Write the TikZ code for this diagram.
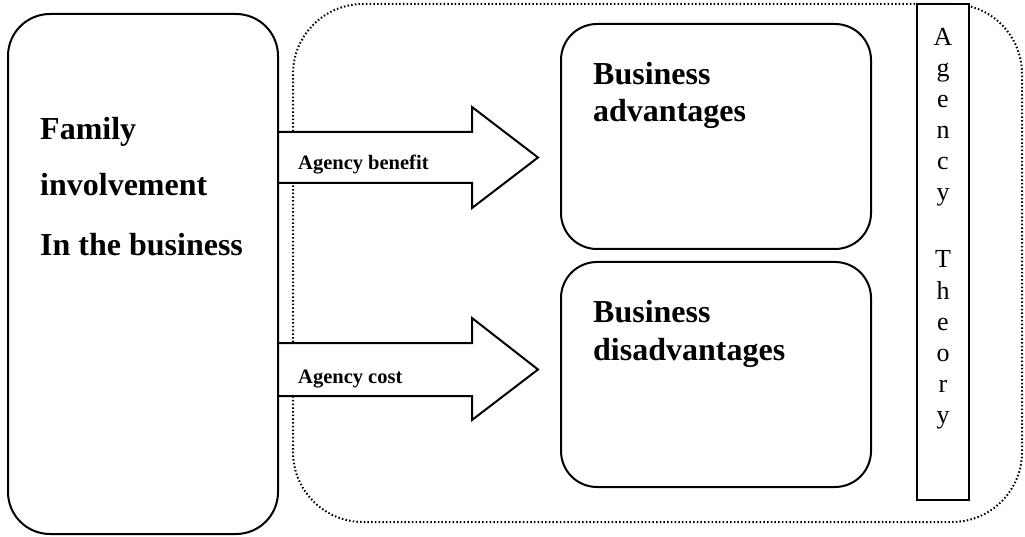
\documentclass[tikz,border=0pt]{standalone}
\usepackage{fontspec}
\setmainfont{Liberation Serif}
\usetikzlibrary{positioning}

\begin{document}
\begin{tikzpicture}[x=1pt, y=-1pt,
        solidbox/.style={draw=black, line width=2pt, inner sep=0pt, fill=white},
        dotbox/.style={draw=black, line width=2pt, dash pattern=on 1.5pt off 2.2pt, rounded corners=70pt, inner sep=0pt},
        blockarrow/.style={draw=black, fill=white, line width=2pt},
        bigtext/.style={anchor=base west, inner sep=0pt, font=\fontsize{32}{37}\selectfont\bfseries},
        smalltext/.style={anchor=base west, inner sep=0pt, font=\fontsize{20.5}{24}\selectfont\bfseries},
        letter/.style={anchor=base, inner sep=0pt, font=\fontsize{26}{30}\selectfont}]
    \useasboundingbox (0,0) rectangle (1025,537);

    % frame of the agency theory
    \node[dotbox, minimum width=729pt, minimum height=518pt] (frame) at (657.5,263) {};

    % arrows (drawn before the family box)
    \coordinate (family east) at (278,0);
    \filldraw[blockarrow] (family east |- 0,132) -- (472,132) -- (472,107) -- (538,157.5) -- (472,208) -- (472,183) -- (family east |- 0,183);
    \filldraw[blockarrow] (family east |- 0,343) -- (472,343) -- (472,318) -- (538,369.5) -- (472,420) -- (472,396) -- (family east |- 0,396);
    \node[smalltext] (benefit) at (298,170) {Agency benefit};
    \node[smalltext] (cost)    at (298,383) {Agency cost};

    % family involvement
    \node[solidbox, fill=none, rounded corners=42pt, minimum width=270pt, minimum height=520pt] (family) at (143,274) {};
    \node[bigtext] (fam1) at (40,140) {Family};
    \node[bigtext] (fam2) at (40,196) {involvement};
    \node[bigtext] (fam3) at (40,256) {In the business};

    % business outcomes
    \node[solidbox, rounded corners=36pt, minimum width=310pt, minimum height=225pt] (adv)    at (716,136.5) {};
    \node[solidbox, rounded corners=36pt, minimum width=310pt, minimum height=225pt] (disadv) at (716,374.5) {};
    \node[bigtext] (adv1)    at (593,85)  {Business};
    \node[bigtext] (adv2)    at (593,122) {advantages};
    \node[bigtext] (disadv1) at (593,323) {Business};
    \node[bigtext] (disadv2) at (593,360) {disadvantages};

    % agency theory column
    \node[solidbox, minimum width=52pt, minimum height=496pt] (theory) at (943,252) {};
    \foreach \ch [count=\i from 0] in {A,g,e,n,c,y}
        \node[letter] (ag\i) at (943,46+31*\i) {\ch};
    \foreach \ch [count=\i from 0] in {T,h,e,o,r,y}
        \node[letter] (th\i) at (943,268+31*\i) {\ch};
\end{tikzpicture}
\end{document}
